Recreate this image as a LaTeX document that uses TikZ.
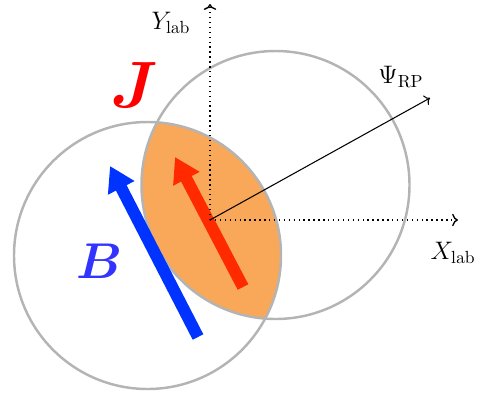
\documentclass[tikz,border=0pt]{standalone}
\usepackage{bm}
\usetikzlibrary{arrows.meta}

\definecolor{ringGray}{RGB}{180,180,180}
\definecolor{lensOrange}{RGB}{248,168,88}
\definecolor{jetRed}{RGB}{255,42,0}
\definecolor{fieldBlue}{RGB}{0,51,255}
\definecolor{labelBlue}{RGB}{51,51,255}
\definecolor{labelRed}{RGB}{255,0,0}

\begin{document}
\begin{tikzpicture}[
    x=0.02cm, y=-0.02cm,
    >=To,
    % Define the looks once
    ring/.style={draw=ringGray, line width=1.4pt},
    axis/.style={->, dotted, line width=0.8pt},
    fatArrow/.style={line width=6.8pt, -{Triangle[length=14pt, width=16pt]}}
]
    \useasboundingbox (0,0) rectangle (490,393);

    % --- NUCLEI AND OVERLAP ---
    \coordinate (leftC) at (147.5,255.5);
    \coordinate (rightC) at (275.5,185);
    \begin{scope}
        \clip (leftC) circle (133.5);
        \fill[lensOrange] (rightC) circle (134);
    \end{scope}
    \draw[ring] (leftC) circle (133.5);
    \draw[ring] (rightC) circle (134);

    % --- FIELD AND CURRENT ARROWS ---
    \coordinate (jTail) at (243,287);
    \coordinate (jHead) at (175,157);
    \draw[fatArrow, jetRed] (jTail) -- (jHead);
    \coordinate (bTail) at (198,337);
    \coordinate (bHead) at (110,166);
    \draw[fatArrow, fieldBlue] (bTail) -- (bHead);

    % --- LAB FRAME AND REACTION PLANE ---
    \coordinate (origin) at (210,220);
    \coordinate (yEnd) at (210,4);
    \coordinate (xEnd) at (458,220);
    \coordinate (psiEnd) at (430,98);
    \draw[axis] (origin) -- (yEnd);
    \draw[axis] (origin) -- (xEnd);
    \draw[->, line width=0.6pt] (origin) -- (psiEnd);

    % --- LABELS ---
    \node[font=\Large] (yLab) at (171,23) {$Y_{\mathrm{lab}}$};
    \node[font=\Large] (xLab) at (453,253) {$X_{\mathrm{lab}}$};
    \node[font=\Large] (psiLab) at (401,77) {$\Psi_{\mathrm{RP}}$};
    \node[text=labelRed, font=\Huge, scale=1.5] (jLab) at (134,85) {$\bm{J}$};
    \node[text=labelBlue, font=\Huge, scale=1.15] (bLab) at (99,261) {$\bm{B}$};

\end{tikzpicture}
\end{document}
